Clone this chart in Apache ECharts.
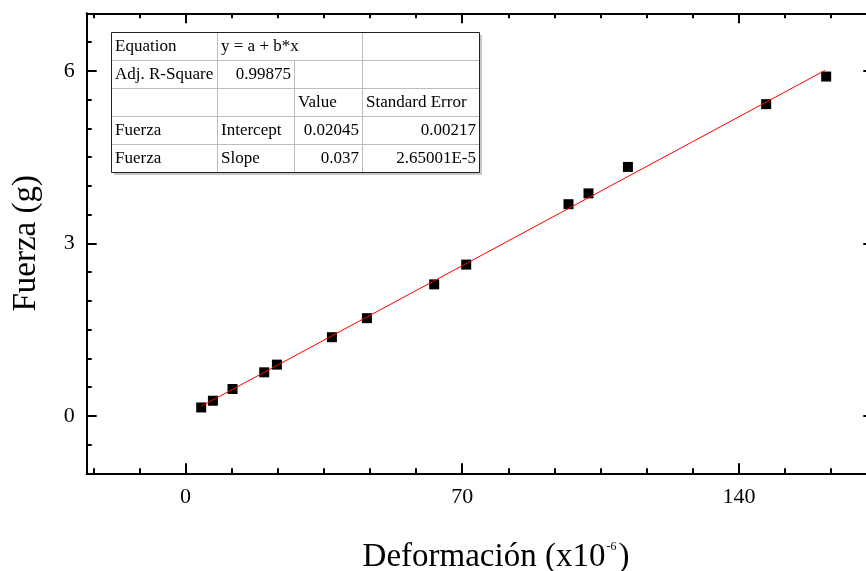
<!DOCTYPE html>
<html><head><meta charset="utf-8">
<script src="https://cdn.jsdelivr.net/npm/echarts@6/dist/echarts.min.js"></script>
<style>html,body{margin:0;padding:0;background:#fff}#c{width:866px;height:571px}</style>
</head><body><div id="c"></div>
<script>
// ---- data ----
const deformacion = [3.97, 6.93, 11.89, 19.91, 23.12, 37.04, 45.89, 62.91, 71.01, 96.89, 101.95, 111.92, 146.9, 162.08];
const fuerza = [0.145, 0.262, 0.466, 0.756, 0.89, 1.367, 1.698, 2.286, 2.63, 3.68, 3.868, 4.328, 5.42, 5.90];
const fitX = [4.0, 161.8];
const fitY = [0.168, 6.007];
const xMajorTicks = [0, 70, 140];
const xMinorTicks = [-23.333, -11.667, 0, 11.667, 23.333, 35, 46.667, 58.333, 70, 81.667, 93.333, 105, 116.667, 128.333, 140, 151.667, 163.333];
const yMajorTicks = [0, 3, 6];
const yMinorTicks = [-0.5, 0, 0.5, 1, 1.5, 2, 2.5, 3, 3.5, 4, 4.5, 5, 5.5, 6, 6.5];
const tableRows = [
  ['Equation', 'y = a + b*x', '', ''],
  ['Adj. R-Square', '0.99875', '', ''],
  ['', '', 'Value', 'Standard Error'],
  ['Fuerza', 'Intercept', '0.02045', '0.00217'],
  ['Fuerza', 'Slope', '0.037', '2.65001E-5']
];
const tableAlign = [
  ['left', 'left', 'left', 'left'],
  ['left', 'right', 'left', 'left'],
  ['left', 'left', 'left', 'left'],
  ['left', 'left', 'right', 'right'],
  ['left', 'left', 'right', 'right']
];

const FONT = '"Liberation Serif", "Times New Roman", serif';
const X_MIN = -25, X_MAX = 174, Y_MIN = -1, Y_MAX = 7;

const gridBox = {left: 86.7, top: 13.3, right: -7.3, bottom: 97.7, outerBoundsMode: 'none', containLabel: false};

function xAx(gridIndex, position, ticks, len, withLabel, name) {
  const a = {
    type: 'value', gridIndex, position, min: X_MIN, max: X_MAX,
    axisLine: {show: gridIndex === 0, onZero: false, lineStyle: {color: '#000', width: 2}},
    axisTick: {show: true, inside: true, length: len, customValues: ticks, lineStyle: {color: '#000', width: 2}},
    axisLabel: withLabel ? {show: true, customValues: xMajorTicks, margin: 13, color: '#000', fontFamily: FONT, fontSize: 22} : {show: false},
    splitLine: {show: false}
  };
  if (name) {
    a.name = '{a|Deformación (x10}{s|-6}{a|)}';
    a.nameLocation = 'middle';
    a.nameGap = 68;
    a.nameTextStyle = {
      padding: [0, 0, 0, 32],
      rich: {
        a: {fontFamily: FONT, fontSize: 33, color: '#000'},
        s: {fontFamily: FONT, fontSize: 12, color: '#000', verticalAlign: 'top', padding: [0, 2, 0, 1]}
      }
    };
  }
  return a;
}
function yAx(gridIndex, position, ticks, len, withLabel, name) {
  const a = {
    type: 'value', gridIndex, position, min: Y_MIN, max: Y_MAX,
    axisLine: {show: gridIndex === 0, onZero: false, lineStyle: {color: '#000', width: 2}},
    axisTick: {show: true, inside: true, length: len, customValues: ticks, lineStyle: {color: '#000', width: 2}},
    axisLabel: withLabel ? {show: true, customValues: yMajorTicks, margin: 12, color: '#000', fontFamily: FONT, fontSize: 22} : {show: false},
    splitLine: {show: false}
  };
  if (name) {
    a.name = name;
    a.nameLocation = 'middle';
    a.nameGap = 44;
    a.nameRotate = 90;
    a.nameTextStyle = {fontFamily: FONT, fontSize: 33, color: '#000'};
  }
  return a;
}

// table graphic
const colX = [111, 217, 294, 362, 479];
const rowY = [32, 60, 88, 116, 144, 172];
const tableEls = [];
tableEls.push({type: 'rect', shape: {x: colX[0] + 3, y: rowY[0] + 3, width: colX[4] - colX[0], height: rowY[5] - rowY[0]}, style: {fill: '#c8c8c8'}, z: 100});
tableEls.push({type: 'rect', shape: {x: colX[0], y: rowY[0], width: colX[4] - colX[0], height: rowY[5] - rowY[0]}, style: {fill: '#fff', stroke: 'none'}, z: 101});
for (let r = 1; r < 5; r++) {
  tableEls.push({type: 'line', shape: {x1: colX[0], y1: rowY[r] + 0.5, x2: colX[4], y2: rowY[r] + 0.5}, style: {stroke: '#bdbdbd', lineWidth: 1}, z: 102});
}
for (let c = 1; c < 4; c++) {
  const yStart = (c === 2) ? rowY[1] : rowY[0];
  tableEls.push({type: 'line', shape: {x1: colX[c] + 0.5, y1: yStart, x2: colX[c] + 0.5, y2: rowY[5]}, style: {stroke: '#bdbdbd', lineWidth: 1}, z: 102});
}
tableEls.push({type: 'rect', shape: {x: colX[0] + 0.5, y: rowY[0] + 0.5, width: colX[4] - colX[0], height: rowY[5] - rowY[0]}, style: {fill: 'none', stroke: '#222', lineWidth: 1}, z: 103});
for (let r = 0; r < 5; r++) {
  for (let c = 0; c < 4; c++) {
    const t = tableRows[r][c];
    if (!t) continue;
    const al = tableAlign[r][c];
    const x = al === 'left' ? colX[c] + 4 : colX[c + 1] - 3;
    tableEls.push({type: 'text', x: x, y: (rowY[r] + rowY[r + 1]) / 2 + 1, style: {text: t, fill: '#000', font: '17px ' + FONT, textAlign: al, textVerticalAlign: 'middle'}, z: 104});
  }
}

const chart = echarts.init(document.getElementById('c'));
chart.setOption({
  animation: false,
  backgroundColor: '#fff',
  grid: [Object.assign({}, gridBox), Object.assign({}, gridBox)],
  xAxis: [
    xAx(0, 'bottom', xMajorTicks, 10, true, true),
    xAx(0, 'top', xMajorTicks, 10, false, false),
    xAx(1, 'bottom', xMinorTicks, 5, false, false),
    xAx(1, 'top', xMinorTicks, 5, false, false)
  ],
  yAxis: [
    yAx(0, 'left', yMajorTicks, 10, true, 'Fuerza (g)'),
    yAx(0, 'right', yMajorTicks, 10, false, null),
    yAx(1, 'left', yMinorTicks, 5, false, null),
    yAx(1, 'right', yMinorTicks, 5, false, null)
  ],
  series: [
    {
      type: 'scatter', xAxisIndex: 0, yAxisIndex: 0,
      symbol: 'rect', symbolSize: 10,
      itemStyle: {color: '#000', opacity: 1},
      data: deformacion.map((x, i) => [x, fuerza[i]]),
      z: 3
    },
    {
      type: 'line', xAxisIndex: 0, yAxisIndex: 0,
      symbol: 'none',
      lineStyle: {color: '#ff0000', width: 1},
      data: fitX.map((x, i) => [x, fitY[i]]),
      z: 4
    }
  ],
  graphic: tableEls
});
</script>
</body></html>
